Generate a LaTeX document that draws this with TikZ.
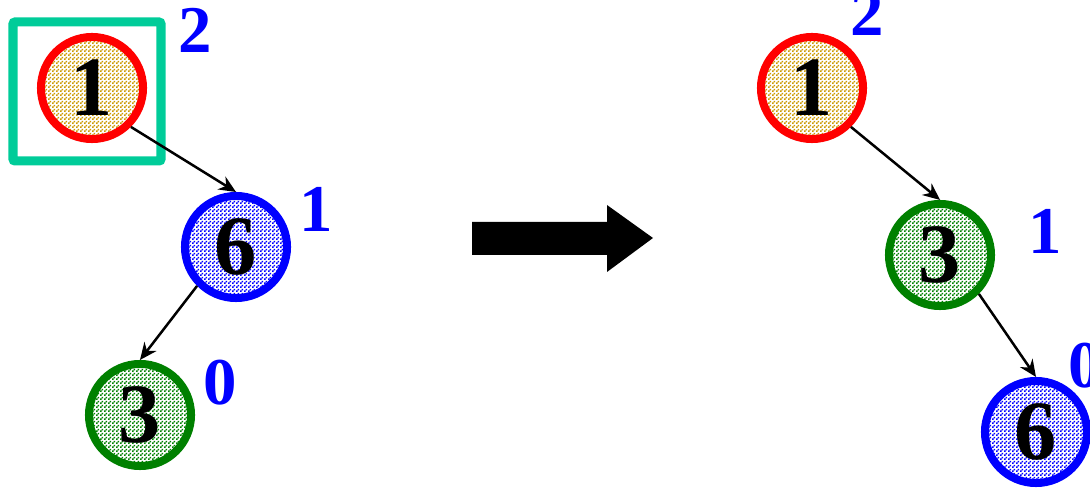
\documentclass[tikz,border=0pt]{standalone}
\usepackage{fontspec}
\setmainfont{Liberation Serif}
\usetikzlibrary{arrows.meta}
\usetikzlibrary{patterns.meta}

\definecolor{boxgreen}{RGB}{0,204,153}
\definecolor{darkgreen}{RGB}{0,128,0}
\definecolor{golden}{RGB}{204,153,0}

\pgfdeclarepattern{
  name=finechecker,
  type=uncolored,
  bottom left={\pgfpointorigin},
  top right={\pgfqpoint{1.138pt}{1.138pt}},
  tile size={\pgfqpoint{1.138pt}{1.138pt}},
  code={
    \pgfpathrectangle{\pgfpointorigin}{\pgfqpoint{0.569pt}{0.569pt}}
    \pgfpathrectangle{\pgfqpoint{0.569pt}{0.569pt}}{\pgfqpoint{0.569pt}{0.569pt}}
    \pgfusepath{fill}
  }
}

\begin{document}
\begin{tikzpicture}[%
  >={Stealth[length=0.17cm,width=0.15cm]},
  x=0.01cm, y=-0.01cm,
  vertex/.style={circle, line width=0.08cm, minimum size=1.02cm,
    inner sep=0pt, font=\fontsize{24}{24}\bfseries\selectfont,
    preaction={fill=white}},
  hgt/.style={text=blue, font=\fontsize{19}{19}\bfseries\selectfont},
  link/.style={->, line width=0.025cm}
]

  \useasboundingbox (0,0) rectangle (1090,488);
  \clip (0,0) rectangle (1090,488);

  % before the rotation
  \draw[boxgreen, line width=0.09cm, rounded corners=0.02cm]
    (13,22) rectangle (161,161);

  \node[vertex, draw=red, pattern={finechecker}, pattern color=golden] (a1) at (92,88) {1};
  \node[vertex, draw=blue, pattern={finechecker}, pattern color=blue] (a6) at (236,247) {6};
  \node[vertex, draw=darkgreen, pattern={finechecker}, pattern color=darkgreen] (a3) at (140,415) {3};

  \node[hgt] (h1) at (195,30) {2};
  \node[hgt] (h6) at (316,209) {1};
  \node[hgt] (h3) at (220,383) {0};

  \draw[link] (a1.south east) -- (a6.north);
  \draw[link] (a6.south west) -- (a3.north);

  % big arrow
  \fill (472,222) -- (607,222) -- (607,205) -- (653,238)
    -- (607,272) -- (607,255) -- (472,255) -- cycle;

  % after the rotation
  \node[vertex, draw=red, pattern={finechecker}, pattern color=golden] (b1) at (812,88) {1};
  \node[vertex, draw=darkgreen, pattern={finechecker}, pattern color=darkgreen] (b3) at (940,255) {3};
  \node[vertex, draw=blue, pattern={finechecker}, pattern color=blue] (b6) at (1036,432) {6};

  \node[hgt] (k1) at (867,13) {2};
  \node[hgt] (k3) at (1045,231) {1};
  \node[hgt] (k6) at (1085,366) {0};

  \draw[link] (b1.south east) -- (b3.north);
  \draw[link] (b3.south east) -- (b6.north);

\end{tikzpicture}
\end{document}
